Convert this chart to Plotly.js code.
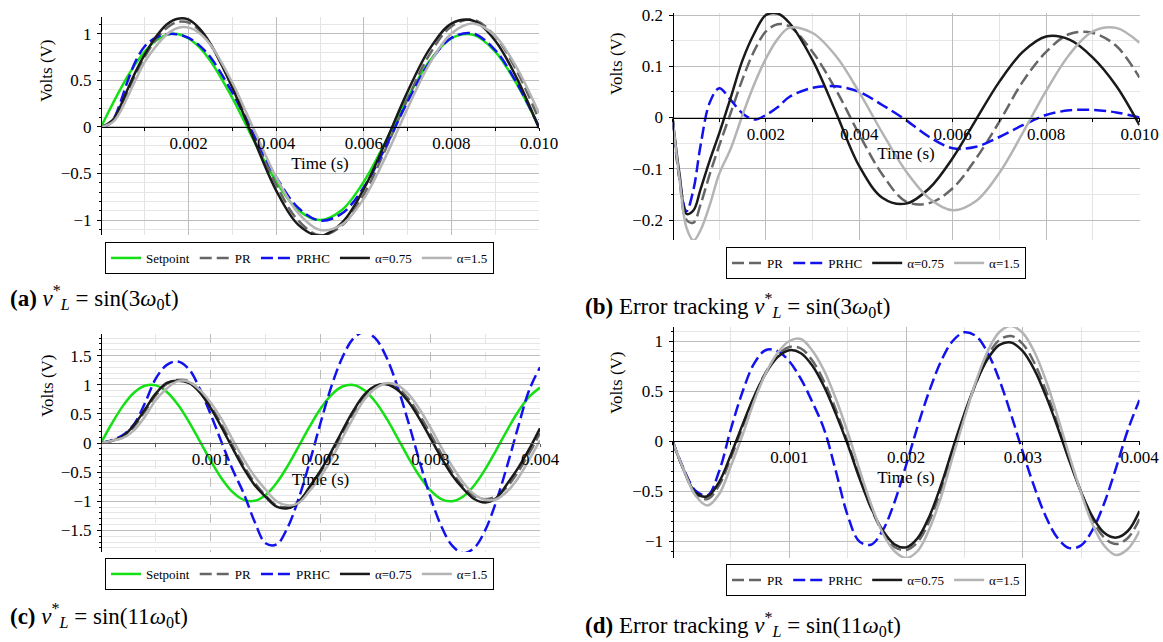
<!DOCTYPE html>
<html><head><meta charset="utf-8">
<script src="https://cdn.plot.ly/plotly-3.0.1.min.js"></script>
<style>html,body{margin:0;padding:0;background:#fff}#chart{width:1163px;height:642px}</style>
</head><body><div id="chart"></div>
<script>
// ---------- DATA ----------
const seriesNames = ['Setpoint', 'PR', 'PRHC', 'α=0.75', 'α=1.5'];

// panels (a) and (b): time in seconds
const tAB = [0,0.00015,0.0003,0.00045,0.0006,0.0008,0.001,0.00125,0.0015,0.00175,0.002,0.00225,0.0025,0.003,0.0035,0.004,0.0045,0.005,0.0055,0.006,0.0065,0.007,0.0075,0.008,0.0085,0.009,0.0095,0.01];
const aSetpoint = [0,0.141,0.279,0.412,0.536,0.685,0.809,0.924,0.988,0.997,0.951,0.853,0.707,0.309,-0.156,-0.588,-0.891,-1,-0.891,-0.588,-0.156,0.309,0.707,0.951,0.988,0.809,0.454,0];
const aPR = [0,0.021,0.079,0.207,0.366,0.575,0.754,0.934,1.063,1.127,1.119,1.035,0.885,0.437,-0.102,-0.621,-1.003,-1.164,-1.058,-0.726,-0.236,0.301,0.777,1.079,1.151,0.974,0.594,0.078];
const aPRHC = [0,0.021,0.096,0.272,0.481,0.715,0.866,0.958,0.996,0.993,0.956,0.873,0.747,0.367,-0.095,-0.538,-0.867,-1.005,-0.929,-0.648,-0.213,0.271,0.692,0.956,1.002,0.824,0.464,0];
const aA075 = [0,0.031,0.091,0.231,0.396,0.602,0.778,0.964,1.1,1.161,1.151,1.056,0.892,0.421,-0.146,-0.683,-1.048,-1.168,-1.029,-0.667,-0.16,0.379,0.835,1.109,1.14,0.926,0.516,-0.015];
const aA15 = [0,0.021,0.064,0.172,0.316,0.515,0.699,0.864,0.993,1.062,1.066,1.006,0.882,0.474,-0.036,-0.539,-0.922,-1.105,-1.049,-0.769,-0.319,0.201,0.677,1.003,1.111,0.977,0.629,0.146];

const bPR = [0,-0.12,-0.2,-0.205,-0.17,-0.11,-0.055,0.01,0.075,0.13,0.168,0.182,0.178,0.128,0.054,-0.033,-0.112,-0.164,-0.167,-0.138,-0.08,-0.008,0.07,0.128,0.163,0.165,0.14,0.078];
const bPRHC = [0,-0.12,-0.183,-0.14,-0.055,0.03,0.057,0.034,0.008,-0.004,0.005,0.02,0.04,0.058,0.061,0.05,0.024,-0.005,-0.038,-0.06,-0.057,-0.038,-0.015,0.005,0.014,0.015,0.01,0];
const bA075 = [0,-0.11,-0.188,-0.181,-0.14,-0.083,-0.031,0.04,0.112,0.164,0.2,0.203,0.185,0.112,0.01,-0.095,-0.157,-0.168,-0.138,-0.079,-0.004,0.07,0.128,0.158,0.152,0.117,0.062,-0.015];
const bA15 = [0,-0.12,-0.215,-0.24,-0.22,-0.17,-0.11,-0.06,0.005,0.065,0.115,0.153,0.175,0.165,0.12,0.049,-0.031,-0.105,-0.158,-0.181,-0.163,-0.108,-0.03,0.052,0.123,0.168,0.175,0.146];

// panels (c) and (d)
const tCD = [0,0.0001,0.0002,0.0003,0.0004,0.0005,0.0006,0.0007,0.0008,0.0009,0.001,0.0011,0.0012,0.0013,0.0014,0.0015,0.0016,0.0017,0.0018,0.0019,0.002,0.0021,0.0022,0.0023,0.0024,0.0025,0.0026,0.0027,0.0028,0.0029,0.003,0.0031,0.0032,0.0033,0.0034,0.0035,0.0036,0.0037,0.0038,0.0039,0.004];
const cSetpoint = [0,0.339,0.637,0.861,0.982, 0.988,0.876,0.661,0.368,0.031, -0.309,-0.613,-0.844,-0.976,-0.992, -0.891,-0.685,-0.397,-0.063,0.279, 0.588,0.827,0.969,0.997,0.905, 0.707,0.426,0.094,-0.249,-0.562, -0.809,-0.961,-0.999,-0.917,-0.729, -0.454,-0.125,0.218,0.536,0.79, 0.951];
const cPR = [0,0.039,0.102,0.281,0.542, 0.818,1.016,1.08,1.058,0.891, 0.631,0.312,-0.044,-0.386,-0.682, -0.901,-1.07,-1.1,-1.0,-0.781, -0.502,-0.183,0.169,0.507,0.785, 0.957,1.006,0.944,0.761,0.488, 0.161,-0.181,-0.499,-0.747,-0.909, -0.964,-0.915,-0.752,-0.494,-0.18, 0.171];
const cPRHC = [0,0.049,0.137,0.318,0.682, 1.108,1.34,1.4,1.27,0.93, 0.488,0.007,-0.46,-0.864,-1.35, -1.72,-1.74,-1.45,-0.958,-0.338, 0.343,0.975,1.471,1.794,1.905, 1.794,1.474,0.976,0.361,-0.298, -0.919,-1.423,-1.761,-1.89,-1.8, -1.498,-1.009,-0.397,0.27,0.9, 1.3];
const cA075 = [0,0.039,0.117,0.308,0.574, 0.851,1.03,1.07,1.03,0.87, 0.599,0.265,-0.094,-0.436,-0.723, -0.925,-1.09,-1.12,-1.02,-0.753, -0.476,-0.144,0.215,0.555,0.829, 0.98,1.008,0.915,0.712,0.423, 0.089,-0.249,-0.553,-0.784,-0.96, -1.02,-0.95,-0.702,-0.43,-0.11, 0.251];
const cA15 = [0,0.039,0.087,0.216,0.452, 0.738,0.936,1.061,1.048,0.911, 0.691,0.407,0.056,-0.276,-0.572, -0.801,-1.0,-1.07,-1.03,-0.821, -0.582,-0.273,0.089,0.437,0.745, 0.937,1.026,0.994,0.841,0.588, 0.271,-0.071,-0.399,-0.677,-0.879, -0.974,-0.965,-0.832,-0.604,-0.29, 0.051];

const dPR = [0,-0.3,-0.535,-0.58,-0.44, -0.17,0.14,0.44,0.69,0.86, 0.94,0.925,0.8,0.59,0.31, -0.01,-0.35,-0.67,-0.91,-1.06, -1.09,-1.01,-0.8,-0.49,-0.12, 0.25,0.58,0.85,1.01,1.05, 0.97,0.78,0.5,0.17,-0.18, -0.51,-0.79,-0.97,-1.03,-0.97, -0.78];
const dPRHC = [0,-0.29,-0.5,-0.543,-0.3, 0.12,0.493,0.776,0.91,0.899, 0.797,0.62,0.384,0.112,-0.305, -0.742,-1.004,-1.037,-0.895,-0.617, -0.245,0.148,0.502,0.797,1.0, 1.087,1.048,0.882,0.61,0.264, -0.11,-0.462,-0.762,-0.973,-1.071, -1.044,-0.884,-0.615,-0.266,0.11, 0.41];
const dA075 = [0,-0.3,-0.52,-0.553,-0.408, -0.137,0.164,0.447,0.679,0.839, 0.908,0.878,0.75,0.54,0.269, -0.034,-0.368,-0.666,-0.894,-1.032, -1.064,-0.971,-0.754,-0.442,-0.076, 0.273,0.582,0.821,0.961,0.985, 0.898,0.712,0.446,0.133,-0.201, -0.512,-0.762,-0.92,-0.966,-0.9, -0.7];
const dA15 = [0,-0.3,-0.55,-0.645,-0.53, -0.25,0.06,0.4,0.68,0.88, 1.0,1.02,0.9,0.7,0.42, 0.09,-0.28,-0.63,-0.92,-1.1, -1.17,-1.1,-0.88,-0.56,-0.16, 0.23,0.6,0.9,1.09,1.15, 1.08,0.89,0.6,0.24,-0.15, -0.52,-0.84,-1.05,-1.14,-1.08, -0.9];

const tickValsAB = [0.002,0.004,0.006,0.008,0.010];
const tickTextAB = ['0.002','0.004','0.006','0.008','0.010'];
const tickValsCD = [0.001,0.002,0.003,0.004];
const tickTextCD = ['0.001','0.002','0.003','0.004'];
const xTitle = 'Time (s)';
const yTitle = 'Volts (V)';
const captions = [
  '<b>(a)</b> <i>v</i><sup>*</sup><sub><i>L</i></sub> = sin(3<i>ω</i><sub>0</sub>t)',
  '<b>(b)</b> Error tracking <i>v</i><sup>*</sup><sub><i>L</i></sub> = sin(3<i>ω</i><sub>0</sub>t)',
  '<b>(c)</b> <i>v</i><sup>*</sup><sub><i>L</i></sub> = sin(11<i>ω</i><sub>0</sub>t)',
  '<b>(d)</b> Error tracking <i>v</i><sup>*</sup><sub><i>L</i></sub> = sin(11<i>ω</i><sub>0</sub>t)'
];

// ---------- STYLE / LAYOUT ----------
const W = 1163, H = 642;
const FONT = 'Liberation Serif';
const fx = p => p / W;
const fy = p => 1 - p / H;
const styles = {
  'Setpoint': {color: '#14e014', dash: 'solid'},
  'PR': {color: '#666666', dash: '12px,5px'},
  'PRHC': {color: '#1212ee', dash: '12px,5px'},
  'α=0.75': {color: '#1a1a1a', dash: 'solid'},
  'α=1.5': {color: '#b4b4b4', dash: 'solid'}
};

const panels = [
  {n: 1, box: [101, 17, 539, 235], xr: [0, 0.01], yr: [-1.16, 1.18], ydt: 0.5, ymin: 0.1, xmin: 0.001,
   tv: tickValsAB, tt: tickTextAB, t: tAB, data: [aSetpoint, aPR, aPRHC, aA075, aA15], names: seriesNames,
   legend: {x: 105, y: 242}, vtitle: {x: 47, y: 71}, cap: {x: 8, y: 298}, zc: '#000', gdash: 'solid'},
  {n: 2, box: [672.5, 13, 1139.5, 240], xr: [0, 0.01], yr: [-0.239, 0.204], ydt: 0.1, ymin: 0.05, xmin: 0.001,
   tv: tickValsAB, tt: tickTextAB, t: tAB, data: [bPR, bPRHC, bA075, bA15], names: seriesNames.slice(1),
   legend: {x: 726, y: 247}, vtitle: {x: 616, y: 64}, cap: {x: 583, y: 306}, zc: '#000', gdash: 'solid'},
  {n: 3, box: [101, 334, 540, 552], xr: [0, 0.004], yr: [-1.87, 1.87], ydt: 0.5, ymin: 0.1, xmin: 0.0005,
   tv: tickValsCD, tt: tickTextCD, t: tCD, data: [cSetpoint, cPR, cPRHC, cA075, cA15], names: seriesNames,
   legend: {x: 105, y: 558}, vtitle: {x: 47, y: 386}, cap: {x: 8, y: 615}, zc: '#555', gdash: 'dash'},
  {n: 4, box: [672.5, 327, 1139.5, 558], xr: [0, 0.004], yr: [-1.17, 1.14], ydt: 0.5, ymin: 0.1, xmin: 0.0005,
   tv: tickValsCD, tt: tickTextCD, t: tCD, data: [dPR, dPRHC, dA075, dA15], names: seriesNames.slice(1),
   legend: {x: 726, y: 564}, vtitle: {x: 616, y: 383}, cap: {x: 583, y: 624}, zc: '#000', gdash: 'solid'}
];

const traces = [];
const layout = {
  width: W, height: H, margin: {l: 0, r: 0, t: 0, b: 0},
  paper_bgcolor: '#fff', plot_bgcolor: '#fff', showlegend: true, hovermode: false,
  font: {family: FONT, color: '#000'}, annotations: []
};

panels.forEach(p => {
  const sfx = p.n === 1 ? '' : String(p.n);
  const legName = p.n === 1 ? 'legend' : 'legend' + p.n;
  const [x0, y0, x1, y1] = p.box;
  const yDom = [fy(y1), fy(y0)];
  const zeroPos = yDom[0] + (0 - p.yr[0]) / (p.yr[1] - p.yr[0]) * (yDom[1] - yDom[0]);
  p.names.forEach((nm, i) => {
    traces.push({
      type: 'scatter', mode: 'lines', name: nm, x: p.t, y: p.data[i],
      xaxis: 'x' + sfx, yaxis: 'y' + sfx, legend: legName,
      line: {color: styles[nm].color, dash: styles[nm].dash, width: 2.5, shape: 'spline', smoothing: 1}
    });
  });
  layout['xaxis' + sfx] = {
    domain: [fx(x0), fx(x1)], range: p.xr, anchor: 'free', position: zeroPos,
    showline: true, linecolor: p.zc, linewidth: 1,
    tickmode: 'array', tickvals: p.tv, ticktext: p.tt,
    ticks: 'outside', ticklen: 3, tickcolor: p.zc, ticklabelstandoff: -2,
    tickfont: {family: FONT, size: 17, color: '#000'},
    showgrid: true, gridcolor: '#bdbdbd', gridwidth: 1, griddash: p.gdash,
    minor: {tickmode: 'linear', tick0: 0, dtick: p.xmin, showgrid: true, gridcolor: '#e4e4e4',
            griddash: p.gdash, ticks: 'outside', ticklen: 3, tickcolor: p.zc},
    zeroline: false, fixedrange: true,
    title: {text: xTitle, font: {family: FONT, size: 17, color: '#000'}, standoff: 4}
  };
  layout['yaxis' + sfx] = {
    domain: yDom, range: p.yr, anchor: 'free', position: fx(x0),
    showline: true, linecolor: '#000', linewidth: 1,
    tick0: 0, dtick: p.ydt, ticks: 'outside', ticklen: 4, tickcolor: '#000', ticklabelstandoff: 2,
    tickfont: {family: FONT, size: 17, color: '#000'},
    showgrid: true, gridcolor: '#bdbdbd', gridwidth: 1,
    minor: {dtick: p.ymin, showgrid: true, gridcolor: '#e6e6e6', ticks: 'outside', ticklen: 2, tickcolor: '#000'},
    zeroline: false, fixedrange: true
  };
  layout[legName] = {
    x: fx(p.legend.x), y: fy(p.legend.y), xanchor: 'left', yanchor: 'top',
    orientation: 'h', bordercolor: '#000', borderwidth: 1, bgcolor: '#fff',
    font: {family: FONT, size: 13, color: '#000'}, itemwidth: 30, traceorder: 'normal'
  };
  layout.annotations.push({
    xref: 'paper', yref: 'paper', x: fx(p.vtitle.x), y: fy(p.vtitle.y), xanchor: 'center', yanchor: 'middle',
    text: yTitle, textangle: -90, showarrow: false, font: {family: FONT, size: 17, color: '#000'}
  });
  layout.annotations.push({
    xref: 'paper', yref: 'paper', x: fx(p.cap.x), y: fy(p.cap.y), xanchor: 'left', yanchor: 'middle',
    text: captions[p.n - 1], showarrow: false, font: {family: FONT, size: 23, color: '#000'}
  });
});

Plotly.newPlot('chart', traces, layout, {staticPlot: true, displayModeBar: false});
</script>
</body></html>
